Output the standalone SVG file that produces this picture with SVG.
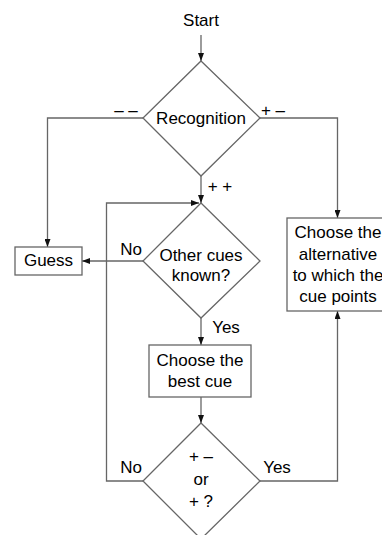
<svg xmlns="http://www.w3.org/2000/svg" width="382" height="535" viewBox="0 0 382 535">
<defs>
<marker id="ah" markerWidth="8" markerHeight="6" refX="8" refY="3" orient="auto" markerUnits="userSpaceOnUse">
<path d="M0,0 L8,3 L0,6 z" fill="#111"/>
</marker>
<style>
.shape{fill:#fff;stroke:#666;stroke-width:1.3}
.line{fill:none;stroke:#666;stroke-width:1.3}
.arr{marker-end:url(#ah)}
text{font-family:"Liberation Sans",Arial,Helvetica,sans-serif;font-size:17px;fill:#000}
.c{text-anchor:middle}
</style>
</defs>
<rect width="382" height="535" fill="#fff"/>
<g id="connectors">
<line class="line arr" x1="201" y1="35" x2="201" y2="61"/>
<polyline class="line arr" points="143,118 47.5,118 47.5,247"/>
<polyline class="line arr" points="260,118 337.5,118 337.5,218"/>
<line class="line arr" x1="201" y1="176" x2="201" y2="203"/>
<line class="line arr" x1="143" y1="261" x2="82" y2="261"/>
<line class="line arr" x1="201" y1="318" x2="201" y2="345"/>
<line class="line arr" x1="201" y1="397" x2="201" y2="423"/>
<polyline class="line arr" points="143,481 106.5,481 106.5,203 199,203"/>
<polyline class="line arr" points="260,481 337.5,481 337.5,311"/>
<text x="126" y="116" class="c">– –</text>
<text x="273" y="116" class="c">+ –</text>
<text x="220" y="192" class="c">+ +</text>
<text x="131" y="255" class="c">No</text>
<text x="226" y="333" class="c">Yes</text>
<text x="131" y="473" class="c">No</text>
<text x="277" y="473" class="c">Yes</text>
</g>
<g id="start"><text x="201" y="26" class="c">Start</text></g>
<g id="recognition">
<polygon class="shape" points="201,61 260,118 201,176 143,118"/>
<text x="201" y="124" class="c">Recognition</text>
</g>
<g id="guess">
<rect class="shape" x="15" y="247" width="67" height="28"/>
<text x="48.5" y="266" class="c">Guess</text>
</g>
<g id="other-cues">
<polygon class="shape" points="201,203 260,261 201,318 143,261"/>
<text x="201" y="261" class="c">Other cues</text>
<text x="201" y="281" class="c">known?</text>
</g>
<g id="choose-alternative">
<rect class="shape" x="287" y="218" width="102" height="93"/>
<text x="338" y="238" class="c">Choose the</text>
<text x="338" y="260" class="c">alternative</text>
<text x="338" y="281" class="c">to which the</text>
<text x="338" y="302" class="c">cue points</text>
</g>
<g id="best-cue">
<rect class="shape" x="149" y="345" width="102" height="52"/>
<text x="200" y="366" class="c">Choose the</text>
<text x="200" y="387" class="c">best cue</text>
</g>
<g id="decision">
<polygon class="shape" points="201,423 260,481 201,539 143,481"/>
<text x="201" y="462" class="c">+ –</text>
<text x="201" y="485" class="c">or</text>
<text x="201" y="507" class="c">+ ?</text>
</g>
</svg>
